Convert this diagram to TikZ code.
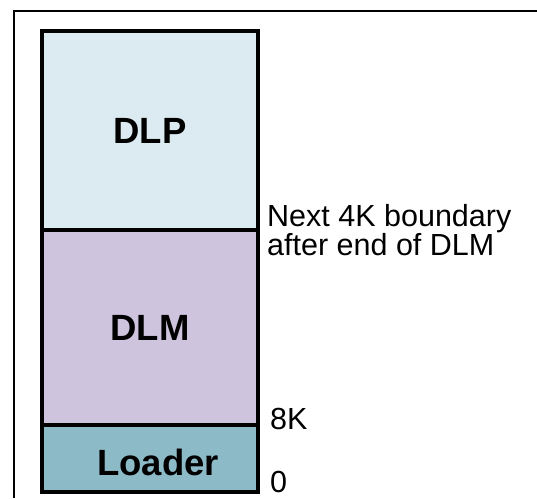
\documentclass[tikz,border=0pt]{standalone}
\usepackage{fontspec}
\setmainfont{Liberation Sans}
\usetikzlibrary{calc}
\definecolor{dlpblue}{HTML}{DCEBF1}
\definecolor{dlmlilac}{HTML}{CEC4DD}
\definecolor{loaderteal}{HTML}{8CBAC7}
\tikzset{
  membox/.style={draw,line width=4pt,minimum width=216pt,inner sep=0pt,outer sep=0pt,
    font=\fontsize{36.5}{40}\selectfont\bfseries},
  addr/.style={anchor=west,inner sep=0pt,align=left,font=\fontsize{30.5}{29}\selectfont}
}
\begin{document}
\begin{tikzpicture}[x=1pt,y=-1pt]
    \useasboundingbox (0,0) rectangle (537,498);
    \draw[line width=2pt] (14,498) -- (14,11) -- (537,11);
    \node[membox,fill=dlpblue,minimum height=199pt] (dlp) at (150,130.5) {DLP};
    \node[membox,fill=dlmlilac,minimum height=195pt] (dlm) at (150,327.5) {DLM};
    \node[membox,fill=loaderteal,minimum height=67pt] (loader) at (150,458.5) {};
    \node[font=\fontsize{36.5}{40}\selectfont\bfseries,inner sep=0pt] (loadertext) at (158,462) {Loader};
    \node[addr] (boundary) at ($(dlm.north east)+(9,0)$) {Next 4K boundary\\after end of DLM};
    \node[addr] (eightk) at ($(dlm.south east)+(12,-6)$) {8K};
    \node[addr] (zero) at ($(loader.south east)+(12,-10)$) {0};
\end{tikzpicture}
\end{document}
